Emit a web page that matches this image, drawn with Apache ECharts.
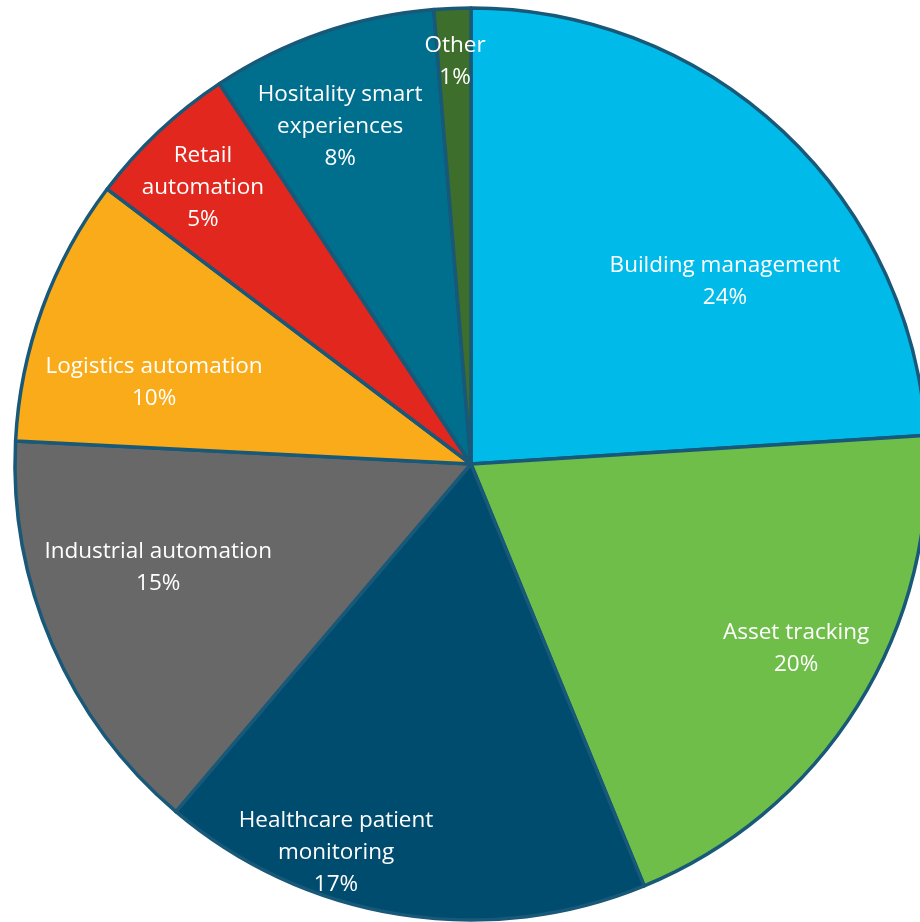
<!DOCTYPE html>
<html>
<head>
<meta charset="utf-8">
<script src="https://cdn.jsdelivr.net/npm/echarts@6/dist/echarts.min.js"></script>
<style>
html,body{margin:0;padding:0;background:#fff;}
#chart{width:920px;height:922px;}
</style>
</head>
<body>
<div id="chart"></div>
<script>
// Data
const categories = [
  'Building management',
  'Asset tracking',
  'Healthcare patient\nmonitoring',
  'Industrial automation',
  'Logistics automation',
  'Retail\nautomation',
  'Hositality smart\nexperiences',
  'Other'
];
const values = [24, 19.8, 17.4, 14.6, 9.5, 5.4, 8, 1.3];

// Styles
const colors = ['#00BBEA', '#6FBE4A', '#004C6F', '#686868', '#FAAB19', '#E2271E', '#006F8E', '#3D6E2B'];
// label centre offsets relative to pie centre, in units of radius
const labelOffsets = [
  [0.557, -0.401], [0.713, 0.404], [-0.296, 0.853], [-0.686, 0.228],
  [-0.695, -0.178], [-0.588, -0.607], [-0.287, -0.739], [-0.035, -0.882]
];
const CX = 471, CY = 464, R = 456;

const total = values.reduce((a, b) => a + b, 0);
const chart = echarts.init(document.getElementById('chart'), null, {renderer: 'canvas'});
chart.setOption({
  animation: false,
  series: [{
    type: 'pie',
    center: [CX, CY],
    radius: [0, R],
    startAngle: 90,
    clockwise: true,
    avoidLabelOverlap: false,
    itemStyle: { borderColor: '#185878', borderWidth: 3.5 },
    label: {
      show: true,
      position: 'inside',
      color: '#ffffff',
      fontFamily: 'Open Sans',
      fontSize: 22.5,
      lineHeight: 32,
      align: 'center',
      formatter: p => p.name + '\n' + Math.round(p.value / total * 100) + '%'
    },
    labelLine: { show: false },
    labelLayout: params => {
      const o = labelOffsets[params.dataIndex];
      return { x: CX + o[0] * R, y: CY + o[1] * R, align: 'center', verticalAlign: 'middle' };
    },
    emphasis: { disabled: true },
    data: categories.map((c, i) => ({ name: c, value: values[i], itemStyle: { color: colors[i] } }))
  }]
});
</script>
</body>
</html>
